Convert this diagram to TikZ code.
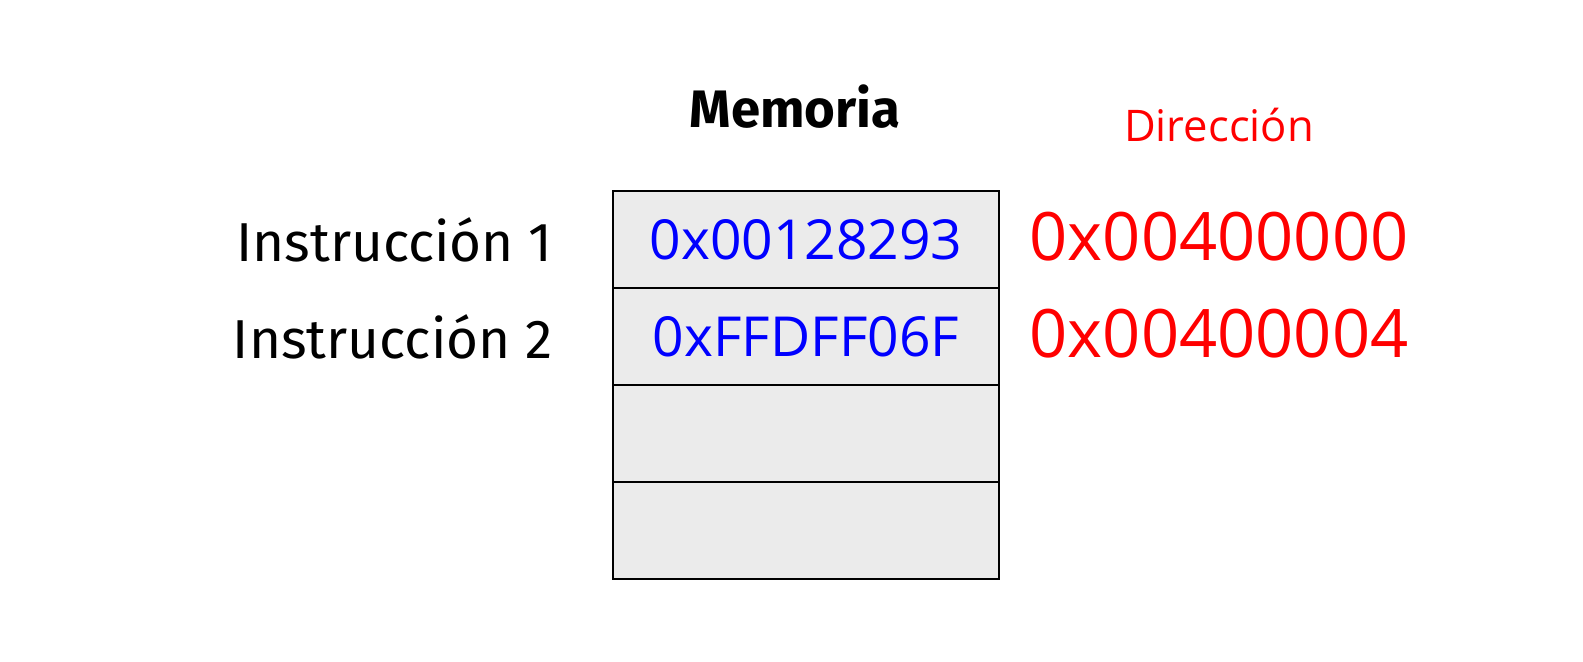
\documentclass[tikz,border=0pt]{standalone}
\usepackage{fontspec}
\setmainfont{Open Sans}
\newfontfamily\labelfont{Fira Sans}
\usetikzlibrary{positioning}
\definecolor{cellgray}{RGB}{235,235,235}
\tikzset{
    cell/.style={rectangle, draw, line width=0.8pt, fill=cellgray, minimum width=3.86cm, minimum height=0.97cm, inner sep=0pt, outer sep=0pt, text=blue, font=\fontsize{15.7}{18}\selectfont},
    addr/.style={inner sep=0pt, text=red, font=\fontsize{19}{22}\selectfont},
    instr/.style={inner sep=0pt, font=\labelfont\fontsize{15.6}{19}\selectfont},
}
\begin{document}
\begin{tikzpicture}
    \useasboundingbox (0,0) rectangle (15.83,-6.61);

    % Memory cells
    \node (cell1) at (8.06,-2.395) [cell] {0x00128293};
    \node (cell2) [cell, below=0pt of cell1] {0xFFDFF06F};
    \node (cell3) [cell, below=0pt of cell2] {};
    \node (cell4) [cell, below=0pt of cell3] {};

    % Title
    \node (memoria) [above=0.62cm of cell1, xshift=-1.1mm, inner sep=0pt, font=\labelfont\bfseries\fontsize{15}{18}\selectfont] {Memoria};

    % Instructions
    \node (instr1) [instr, left=0.6cm of cell1] {Instrucción 1};
    \node (instr2) [instr, left=0.6cm of cell2] {Instrucción 2};

    % Addresses
    \node (addr1) [addr, right=0.3cm of cell1, yshift=0.3mm] {0x00400000};
    \node (addr2) [addr, right=0.3cm of cell2, yshift=0.3mm] {0x00400004};
    \node (direccion) [above=0.69cm of addr1, inner sep=0pt, text=red, font=\fontsize{12.4}{15}\selectfont] {Dirección};
\end{tikzpicture}
\end{document}
